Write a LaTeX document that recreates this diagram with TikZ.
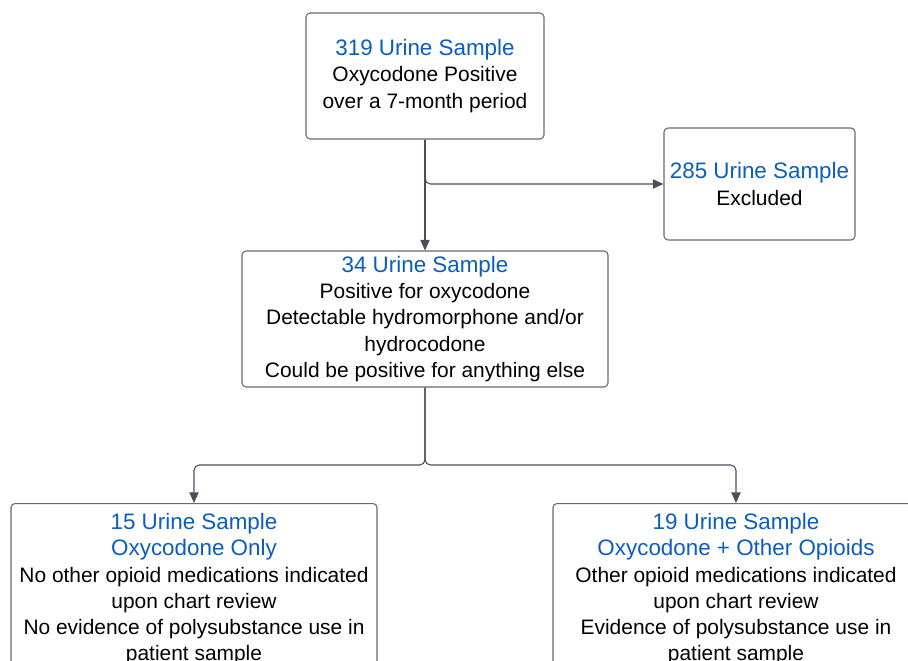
\documentclass[tikz,border=0pt]{standalone}
\usepackage{fontspec}
\setmainfont{Liberation Sans}
\usepackage{xcolor}
\usepackage{tikz}
\usetikzlibrary{arrows.meta}
\definecolor{headblue}{HTML}{0B5EBD}
\definecolor{frame}{HTML}{6A6A6A}
\definecolor{wire}{HTML}{4A4E5A}
\tikzset{
  box/.style={draw=frame, line width=0.8pt, rounded corners=3pt, fill=white,
    align=center, inner sep=0pt, font=\fontsize{15.7}{19.6}\selectfont},
  link/.style={draw=wire, line width=0.8pt, rounded corners=4pt,
    -{Triangle[length=8pt,width=7pt]}},
}
\newcommand{\hd}[1]{{\fontsize{16.8}{20.2}\selectfont\textcolor{headblue}{#1}}}

\begin{document}
\begin{tikzpicture}[x=0.75pt, y=-0.75pt]
  \useasboundingbox (0,0) rectangle (908,661);
  \clip (0,0) rectangle (908,661);
  % boxes
  \node[box, minimum width=178.5pt, minimum height=94.5pt] (total) at (425,76)
    {\hd{319 Urine Sample}\\Oxycodone Positive\\over a 7-month period};
  \node[box, minimum width=143.25pt, minimum height=84pt] (excl) at (759.5,184)
    {\hd{285 Urine Sample}\\Excluded};
  \node[box, minimum width=274.5pt, minimum height=102pt] (incl) at (425,319)
    {\hd{34 Urine Sample}\\Positive for oxycodone\\Detectable hydromorphone and/or\\hydrocodone\\Could be positive for anything else};
  \node[box, minimum width=274.5pt, anchor=north, inner ysep=7.5pt] (only) at (194,503)
    {\hd{15 Urine Sample}\\\hd{Oxycodone Only}\\No other opioid medications indicated\\upon chart review\\No evidence of polysubstance use in\\patient sample\\\strut};
  \node[box, minimum width=274.5pt, anchor=north, inner ysep=7.5pt] (other) at (736,503)
    {\hd{19 Urine Sample}\\\hd{Oxycodone + Other Opioids}\\Other opioid medications indicated\\upon chart review\\Evidence of polysubstance use in\\patient sample\\\strut};
  % connectors
  \coordinate (split) at (425,465);
  \draw[link] (total) -- (incl);
  \draw[link] (total.south) |- (excl.west);
  \draw[link] (incl.south) -- (split) -| (only.north);
  \draw[link] (incl.south) -- (split) -| (other.north);
\end{tikzpicture}
\end{document}
